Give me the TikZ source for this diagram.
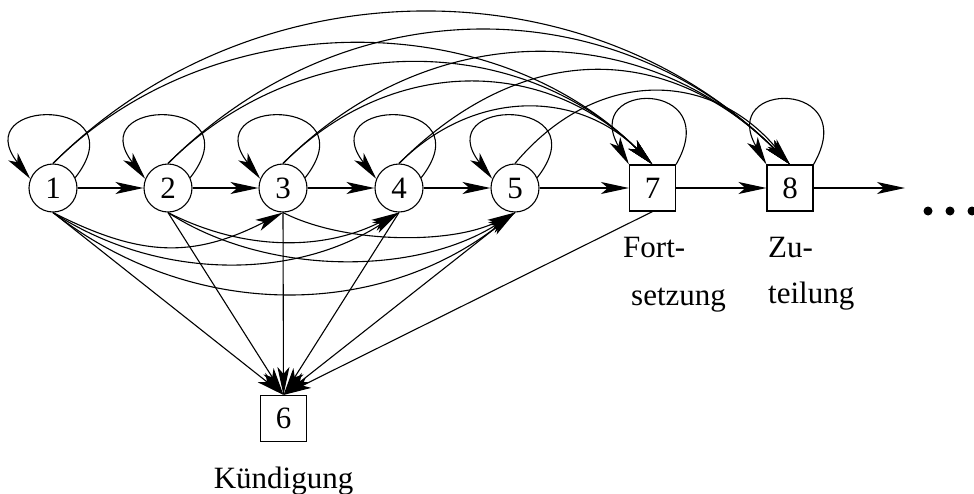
\documentclass[tikz,border=0pt]{standalone}
\usepackage{fontspec}
\setmainfont{Liberation Serif}
\usetikzlibrary{arrows.meta}
\begin{document}
\begin{tikzpicture}[x=1pt,y=1pt,
  every node/.style={font=\fontsize{31}{37}\selectfont},
  circnode/.style={circle, draw, line width=1.1pt, minimum size=48pt, inner sep=0pt},
  boxnode/.style={rectangle, draw, line width=1.1pt, minimum size=46pt, inner sep=0pt},
  conn/.style={line width=1.1pt, -{Stealth[length=28pt,width=12pt,inset=7pt]}},
  wordtext/.style={anchor=base west, inner sep=0pt},
]
\useasboundingbox (0,0) rectangle (974,-493);

% states
\node[circnode] (n1) at (53,-188) {1};
\node[circnode] (n2) at (168,-188) {2};
\node[circnode] (n3) at (283,-188) {3};
\node[circnode] (n4) at (399,-188) {4};
\node[circnode] (n5) at (515,-188) {5};
\node[boxnode] (n7) at (652.5,-188) {7};
\node[boxnode] (n8) at (790,-188) {8};
\node[boxnode] (n6) at (283.5,-418.5) {6};
\coordinate (more) at (905,-188);

% captions of the final states
\node[wordtext] (tfort) at (623,-257) {Fort-};
\node[wordtext] (tsetz) at (631,-305) {setzung};
\node[wordtext] (tzu) at (768,-257) {Zu-};
\node[wordtext] (tteil) at (768,-303) {teilung};
\node[anchor=base, inner sep=0pt] (tkuend) at (283.5,-488) {Kündigung};

% main chain
\draw[conn] (n1) -- (n2);
\draw[conn] (n2) -- (n3);
\draw[conn] (n3) -- (n4);
\draw[conn] (n4) -- (n5);
\draw[conn] (n5) -- (n7);
\draw[conn] (n7) -- (n8);
\draw[conn] (n8) -- (more);

% self loops
\foreach \n in {n1,n2,n3,n4,n5}
  \draw[conn] (\n.25) .. controls +(52:104) and +(128:104) .. (\n.158);
\foreach \n in {n7,n8}
  \draw[conn] (\n.north east) .. controls +(60:98) and +(120:98) .. (\n.north west);

% arcs over the top
\draw[conn] (n1.north) .. controls +(45:285) and +(135:285) .. (n8.north);
\draw[conn] (n1.north) .. controls +(45:226) and +(135:226) .. (n7.north);
\draw[conn] (n2.north) .. controls +(45:251) and +(135:251) .. (n8.north);
\draw[conn] (n2.north) .. controls +(45:190) and +(135:190) .. (n7.north);
\draw[conn] (n3.north) .. controls +(45:209) and +(135:209) .. (n8.north);
\draw[conn] (n3.north) .. controls +(45:153) and +(135:153) .. (n7.north);
\draw[conn] (n4.north) .. controls +(45:175) and +(135:175) .. (n8.north);
\draw[conn] (n4.north) .. controls +(45:106) and +(135:106) .. (n7.north);
\draw[conn] (n5.north) .. controls +(50:125) and +(130:125) .. (n8.north);

% arcs underneath
\draw[conn] (n1.south) .. controls +(-27:100) and +(-153:100) .. (n3.south);
\draw[conn] (n1.south) .. controls +(-33:125) and +(-147:125) .. (n4.south);
\draw[conn] (n1.south) .. controls +(-38:175) and +(-142:175) .. (n5.south);
\draw[conn] (n2.south) .. controls +(-27:85) and +(-153:85) .. (n4.south);
\draw[conn] (n2.south) .. controls +(-33:117) and +(-147:117) .. (n5.south);
\draw[conn] (n3.south) .. controls +(-27:70) and +(-153:70) .. (n5.south);

% transitions to the cancellation state
\foreach \n in {n1,n2,n3,n4,n5,n7}
  \draw[conn] (\n.south) -- (n6.north);

% continuation dots
\fill (928,-211) circle (4.5);
\fill (950,-211) circle (4.5);
\fill (972,-211) circle (4.5);
\end{tikzpicture}
\end{document}
